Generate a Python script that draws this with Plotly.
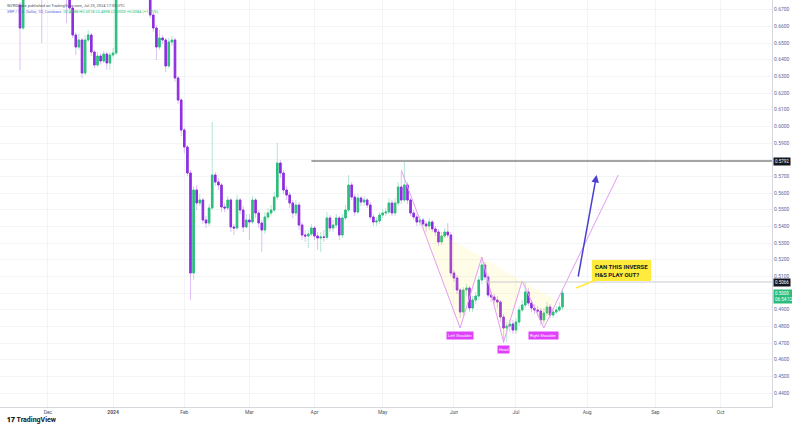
import pandas as pd
import plotly.graph_objects as go

# ---------------- data (daily candles, weekdays) ----------------
start_date = "2023-11-20"
first_open = 0.6728
closes = [
    0.6590, 0.6818, 0.6890, 0.6968, 0.6938, 0.7028, 0.6926, 0.6848, 0.6938, 0.7010,
    0.7070, 0.7022, 0.6962, 0.6902, 0.6866, 0.6806, 0.6710, 0.6548, 0.6476, 0.6518,
    0.6320, 0.6518, 0.6548, 0.6446, 0.6368, 0.6422, 0.6392, 0.6434, 0.6380, 0.6428,
    0.6440, 0.6788, 0.6848, 0.6908, 0.6968, 0.6938, 0.6878, 0.6998, 0.6938, 0.6908,
    0.6848, 0.6818, 0.6668, 0.6590, 0.6476, 0.6530, 0.6518, 0.6362, 0.6506, 0.6518,
    0.6290, 0.6158, 0.5978, 0.5876, 0.5720, 0.5120, 0.5618, 0.5540, 0.5558, 0.5438,
    0.5420, 0.5510, 0.5708, 0.5666, 0.5648, 0.5516, 0.5510, 0.5558, 0.5396, 0.5390,
    0.5558, 0.5498, 0.5396, 0.5438, 0.5426, 0.5558, 0.5480, 0.5420, 0.5378, 0.5456,
    0.5480, 0.5498, 0.5576, 0.5780, 0.5720, 0.5618, 0.5588, 0.5540, 0.5480, 0.5528,
    0.5408, 0.5348, 0.5342, 0.5354, 0.5390, 0.5342, 0.5330, 0.5336, 0.5334, 0.5450,
    0.5390, 0.5408, 0.5450, 0.5348, 0.5450, 0.5498, 0.5648, 0.5576, 0.5486, 0.5570,
    0.5546, 0.5558, 0.5528, 0.5456, 0.5426, 0.5432, 0.5468, 0.5480, 0.5486, 0.5540,
    0.5480, 0.5540, 0.5636, 0.5558, 0.5648, 0.5558, 0.5480, 0.5456, 0.5426, 0.5438,
    0.5414, 0.5402, 0.5426, 0.5384, 0.5366, 0.5306, 0.5342, 0.5366, 0.5348, 0.5120,
    0.5090, 0.5018, 0.4886, 0.5018, 0.5030, 0.4910, 0.4958, 0.4982, 0.5078, 0.5168,
    0.5096, 0.4988, 0.4976, 0.4958, 0.4946, 0.4856, 0.4790, 0.4802, 0.4814, 0.4778,
    0.4826, 0.4898, 0.4928, 0.5006, 0.4940, 0.4910, 0.4898, 0.4892, 0.4838, 0.4880,
    0.4916, 0.4868, 0.4886, 0.4898, 0.4916, 0.5000,
]
highs = [
    0.6746, 0.6866, 0.6938, 0.7010, 0.6998, 0.7070, 0.7046, 0.6950, 0.6974, 0.7058,
    0.7118, 0.7106, 0.7046, 0.6986, 0.6938, 0.6890, 0.6830, 0.6728, 0.6566, 0.6560,
    0.6530, 0.6548, 0.6578, 0.6560, 0.6458, 0.6446, 0.6440, 0.6452, 0.6446, 0.6446,
    0.6470, 0.6848, 0.6908, 0.6950, 0.7010, 0.6998, 0.6968, 0.7034, 0.7022, 0.6974,
    0.6926, 0.6878, 0.6842, 0.6686, 0.6608, 0.6578, 0.6548, 0.6530, 0.6530, 0.6542,
    0.6530, 0.6302, 0.6170, 0.5990, 0.5888, 0.5738, 0.5642, 0.5648, 0.5594, 0.5570,
    0.5462, 0.5534, 0.6026, 0.5726, 0.5690, 0.5660, 0.5540, 0.5582, 0.5570, 0.5414,
    0.5588, 0.5570, 0.5522, 0.5474, 0.5474, 0.5582, 0.5570, 0.5498, 0.5438, 0.5486,
    0.5510, 0.5528, 0.5606, 0.5900, 0.5798, 0.5738, 0.5642, 0.5606, 0.5558, 0.5558,
    0.5546, 0.5426, 0.5378, 0.5378, 0.5414, 0.5402, 0.5366, 0.5366, 0.5378, 0.5486,
    0.5468, 0.5438, 0.5474, 0.5462, 0.5474, 0.5528, 0.5708, 0.5666, 0.5594, 0.5594,
    0.5582, 0.5582, 0.5570, 0.5546, 0.5474, 0.5456, 0.5486, 0.5504, 0.5510, 0.5570,
    0.5558, 0.5570, 0.5666, 0.5726, 0.5786, 0.5666, 0.5570, 0.5498, 0.5474, 0.5462,
    0.5450, 0.5432, 0.5450, 0.5438, 0.5402, 0.5384, 0.5366, 0.5390, 0.5420, 0.5366,
    0.5138, 0.5108, 0.5030, 0.5036, 0.5054, 0.5042, 0.4982, 0.5006, 0.5102, 0.5216,
    0.5186, 0.5114, 0.5006, 0.4994, 0.4982, 0.4958, 0.4874, 0.4826, 0.4838, 0.4838,
    0.4850, 0.4922, 0.4958, 0.5066, 0.5030, 0.4958, 0.4934, 0.4922, 0.4910, 0.4910,
    0.4946, 0.4934, 0.4910, 0.4922, 0.4946, 0.5018,
]
lows = [
    0.6338, 0.6578, 0.6806, 0.6866, 0.6890, 0.6914, 0.6878, 0.6500, 0.6818, 0.6902,
    0.6986, 0.6974, 0.6926, 0.6854, 0.6818, 0.6620, 0.6674, 0.6530, 0.6428, 0.6458,
    0.6290, 0.6308, 0.6506, 0.6422, 0.6350, 0.6356, 0.6374, 0.6380, 0.6338, 0.6338,
    0.6410, 0.6428, 0.6758, 0.6818, 0.6878, 0.6890, 0.6830, 0.6866, 0.6902, 0.6866,
    0.6818, 0.6782, 0.6650, 0.6566, 0.6398, 0.6458, 0.6494, 0.6326, 0.6350, 0.6482,
    0.6266, 0.6134, 0.5942, 0.5840, 0.5702, 0.4958, 0.5078, 0.5498, 0.5522, 0.5414,
    0.5390, 0.5402, 0.5498, 0.5642, 0.5618, 0.5486, 0.5486, 0.5498, 0.5366, 0.5348,
    0.5378, 0.5474, 0.5366, 0.5390, 0.5318, 0.5414, 0.5450, 0.5390, 0.5246, 0.5354,
    0.5438, 0.5462, 0.5486, 0.5558, 0.5690, 0.5594, 0.5558, 0.5510, 0.5450, 0.5462,
    0.5378, 0.5318, 0.5306, 0.5270, 0.5342, 0.5318, 0.5258, 0.5246, 0.5306, 0.5318,
    0.5366, 0.5366, 0.5390, 0.5318, 0.5330, 0.5438, 0.5486, 0.5558, 0.5462, 0.5474,
    0.5522, 0.5522, 0.5510, 0.5438, 0.5402, 0.5402, 0.5414, 0.5450, 0.5462, 0.5474,
    0.5462, 0.5462, 0.5522, 0.5534, 0.5546, 0.5534, 0.5462, 0.5438, 0.5402, 0.5402,
    0.5390, 0.5366, 0.5378, 0.5366, 0.5342, 0.5282, 0.5288, 0.5330, 0.5330, 0.5102,
    0.5066, 0.4994, 0.4850, 0.4862, 0.4982, 0.4886, 0.4886, 0.4934, 0.4958, 0.5054,
    0.5078, 0.4970, 0.4946, 0.4934, 0.4910, 0.4826, 0.4700, 0.4706, 0.4766, 0.4754,
    0.4754, 0.4802, 0.4886, 0.4910, 0.4922, 0.4886, 0.4874, 0.4862, 0.4808, 0.4814,
    0.4862, 0.4850, 0.4850, 0.4874, 0.4886, 0.4898,
]

# axis ticks
month_ticks = ["2023-12-01", "2024-01-01", "2024-02-01", "2024-03-01", "2024-04-01",
               "2024-05-01", "2024-06-03", "2024-07-01", "2024-08-01", "2024-09-02",
               "2024-10-01"]
month_labels = ["Dec", "<b>2024</b>", "Feb", "Mar", "Apr", "May", "Jun", "Jul",
                "Aug", "Sep", "Oct"]
price_ticks = [0.44, 0.45, 0.46, 0.47, 0.48, 0.49, 0.50, 0.51, 0.52, 0.53, 0.54, 0.55,
               0.56, 0.57, 0.58, 0.59, 0.60, 0.61, 0.62, 0.63, 0.64, 0.65, 0.66, 0.67]
# tick labels hidden behind the price labels on the axis (0.50 and 0.58)
hidden_price_ticks = [0.50, 0.58]

# drawings (inverse head & shoulders)
hs_dates = ["2024-05-09", "2024-06-05", "2024-06-14", "2024-06-25", "2024-07-03",
            "2024-07-12", "2024-08-15"]
hs_prices = [0.5738, 0.4790, 0.5216, 0.4706, 0.5072, 0.4790, 0.5708]
fill_left = (["2024-05-17", "2024-06-05", "2024-06-14"], [0.5426, 0.4790, 0.5216])
fill_head = (["2024-06-14", "2024-06-25", "2024-07-03"], [0.5216, 0.4706, 0.5072])
fill_right = (["2024-07-03", "2024-07-12", "2024-07-18"], [0.5072, 0.4790, 0.4955])
resistance_level = 0.5792
resistance_start = "2024-03-29"
neck_level = 0.5066
neck_start = "2024-06-17"
arrow_from = ("2024-07-29", 0.5090)
arrow_to = ("2024-08-06", 0.5708)

x_range = ["2023-11-09 13:00", "2024-10-23 14:24"]
y_range = [0.4316, 0.6758]

GREEN = "#2bbd7e"
PURPLE = "#8e2ee0"
WICK_UP = "rgba(43,189,126,0.35)"
WICK_DN = "rgba(142,46,224,0.30)"
PINK = "#e59cf5"
MAGENTA = "#e040fb"
FONT = "Roboto"

# ---------------- build ----------------
dates = pd.bdate_range(start_date, periods=len(closes))
opens = [first_open] + closes[:-1]
body_hi = [max(o, c) for o, c in zip(opens, closes)]
body_lo = [min(o, c) for o, c in zip(opens, closes)]
price_tick_text = ["" if t in hidden_price_ticks else f"{t:.4f}" for t in price_ticks]

fig = go.Figure()

# wicks
fig.add_trace(go.Candlestick(
    x=dates, open=opens, high=highs, low=lows, close=closes,
    increasing=dict(line=dict(color=WICK_UP, width=1), fillcolor="rgba(0,0,0,0)"),
    decreasing=dict(line=dict(color=WICK_DN, width=1), fillcolor="rgba(0,0,0,0)"),
    whiskerwidth=0, hoverinfo="skip", showlegend=False))
# bodies
fig.add_trace(go.Candlestick(
    x=dates, open=opens, high=body_hi, low=body_lo, close=closes,
    increasing=dict(line=dict(color=GREEN, width=1), fillcolor=GREEN),
    decreasing=dict(line=dict(color=PURPLE, width=1), fillcolor=PURPLE),
    whiskerwidth=0, showlegend=False))

# pattern fills
for fd, fp in (fill_left, fill_head, fill_right):
    fig.add_trace(go.Scatter(x=fd + fd[:1], y=fp + fp[:1], mode="lines", fill="toself",
                             fillcolor="rgba(255,230,80,0.13)", line=dict(width=0),
                             hoverinfo="skip", showlegend=False))
# pattern legs
fig.add_trace(go.Scatter(x=hs_dates, y=hs_prices, mode="lines",
                         line=dict(color=PINK, width=1), hoverinfo="skip",
                         showlegend=False))
# horizontal levels
fig.add_trace(go.Scatter(x=[resistance_start, "2024-12-31"],
                         y=[resistance_level, resistance_level], mode="lines",
                         line=dict(color="#4a4a4a", width=1), hoverinfo="skip",
                         showlegend=False))
fig.add_trace(go.Scatter(x=[neck_start, "2024-12-31"], y=[neck_level, neck_level],
                         mode="lines", line=dict(color="#c9cbd2", width=1),
                         hoverinfo="skip", showlegend=False))

ann = []
# arrow
ann.append(dict(x=arrow_to[0], y=arrow_to[1], ax=arrow_from[0], ay=arrow_from[1],
                xref="x", yref="y", axref="x", ayref="y", text="", showarrow=True,
                arrowhead=2, arrowsize=1, arrowwidth=1.5, arrowcolor="#4a3fcf"))
# pattern labels
for txt, d, p in (("Left Shoulder", hs_dates[1], hs_prices[1]),
                  ("Head", hs_dates[3], hs_prices[3]),
                  ("Right Shoulder", hs_dates[5], hs_prices[5])):
    ann.append(dict(x=d, y=p, xref="x", yref="y", text=txt, showarrow=False,
                    yanchor="top", yshift=-3, bgcolor=MAGENTA, borderpad=1,
                    font=dict(family=FONT, size=4, color="white")))
# callout
ann.append(dict(x=576 / 772, y=(407 - 288) / 407, xref="paper", yref="paper",
                text="<b>CAN THIS INVERSE<br>H&S PLAY OUT?</b>", showarrow=True,
                arrowhead=0, arrowwidth=1.5, arrowcolor="#ffeb3b", ax=45, ay=-18,
                bgcolor="#ffeb3b", bordercolor="#ffeb3b", borderpad=2, align="left",
                font=dict(family=FONT, size=6, color="#131722")))
# price labels on axis
for txt, p, bg in ((f"{resistance_level:.4f}", resistance_level, "#131722"),
                   (f"{neck_level:.4f}", neck_level, "#131722"),
                   (f"{closes[-1]:.4f}<br>06:54:12", closes[-1], GREEN)):
    ann.append(dict(x=1, y=p, xref="paper", yref="y", text=txt, showarrow=False,
                    xanchor="left", xshift=1, yanchor="middle" if bg != GREEN else "top",
                    yshift=0 if bg != GREEN else 4,
                    bgcolor=bg, borderpad=1, align="left",
                    font=dict(family=FONT, size=4.5, color="white")))
# header
ann.append(dict(x=0.006, y=1 - 1 / 407, xref="paper", yref="paper", xanchor="left",
                yanchor="top", showarrow=False,
                text="WZRDLabs published on TradingView.com, Jul 25, 2024 17:05 UTC",
                font=dict(family=FONT, size=4, color="#50535e")))
ann.append(dict(x=0.006, y=1 - 7 / 407, xref="paper", yref="paper", xanchor="left",
                yanchor="top", showarrow=False,
                text=("<span style='color:#5b6bd6'>XRP / U.S. Dollar, 1D, Coinbase</span>"
                      "  <span style='color:#2bbd7e'>O0.4988 H0.5018 L0.4898 C0.5000 "
                      "+0.0084 (+1.71%)</span>"),
                font=dict(family=FONT, size=4, color="#5b6bd6")))
# logo
ann.append(dict(x=0.006, y=(407 - 420) / 407, xref="paper", yref="paper",
                xanchor="left", yanchor="middle", showarrow=False,
                text="<b>𝟏𝟕 TradingView</b>",
                font=dict(family=FONT, size=7, color="#131722")))

fig.update_layout(
    width=792, height=430, margin=dict(l=0, r=20, t=0, b=23),
    paper_bgcolor="white", plot_bgcolor="white", showlegend=False,
    annotations=ann,
    xaxis=dict(type="date", range=x_range, rangeslider=dict(visible=False),
               rangebreaks=[dict(bounds=["sat", "mon"])],
               tickvals=month_ticks, ticktext=month_labels,
               tickfont=dict(family=FONT, size=5, color="#50535e"),
               showgrid=True, gridcolor="#f3f4f7", gridwidth=1,
               showline=True, linecolor="#d6d8de", linewidth=1, ticks="",
               zeroline=False, fixedrange=True),
    yaxis=dict(side="right", range=y_range, tickvals=price_ticks,
               ticktext=price_tick_text,
               tickfont=dict(family=FONT, size=5, color="#5d6b98"),
               showgrid=True, gridcolor="#f3f4f7", gridwidth=1,
               showline=True, linecolor="#d6d8de", linewidth=1, ticks="",
               zeroline=False, fixedrange=True),
)

fig.write_html("out.html")
